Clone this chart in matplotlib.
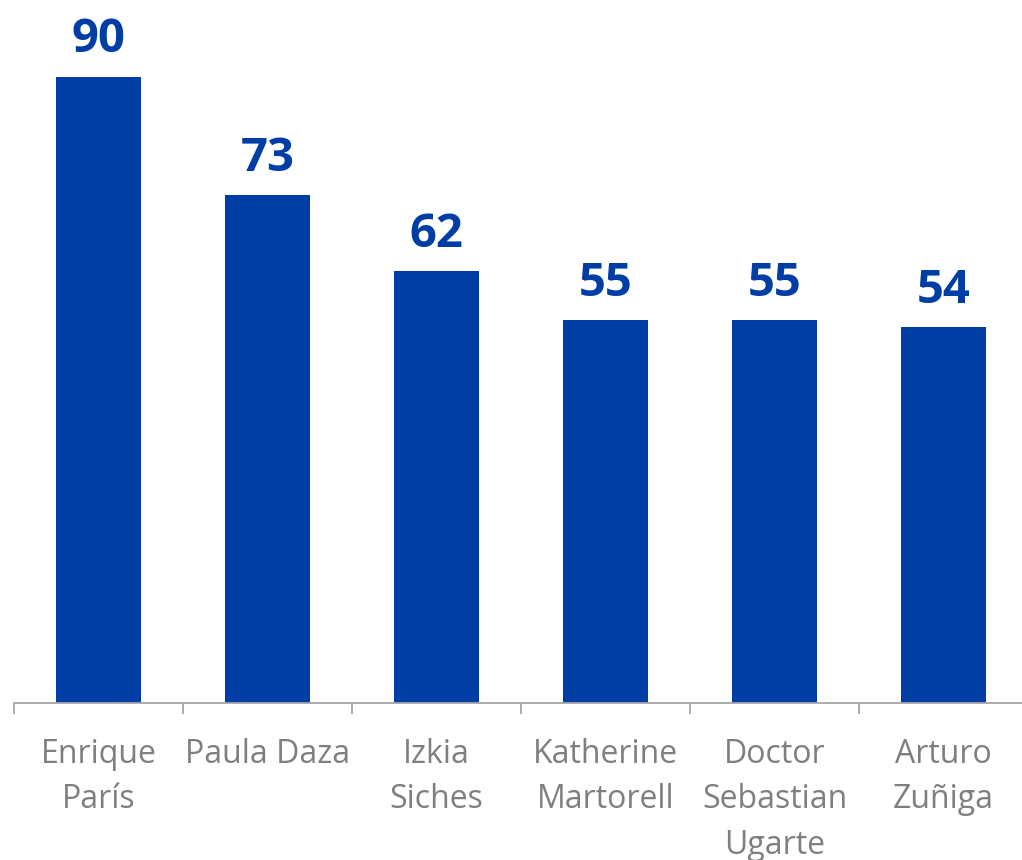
import matplotlib.pyplot as plt
import numpy as np

names = ['Enrique\nParís', 'Paula Daza', 'Izkia\nSiches', 'Katherine\nMartorell',
         'Doctor\nSebastian\nUgarte', 'Arturo\nZuñiga']
values = [90, 73, 62, 55, 55, 54]

bar_color = '#003DA5'
label_color = '#7F7F7F'
axis_color = '#A6A6A6'


def main():
    plt.rcParams['font.family'] = ['Open Sans', 'DejaVu Sans']
    fig = plt.figure(figsize=(10.22, 8.6), dpi=100)
    ax = fig.add_axes([14 / 1022, 1 - 703 / 860, 1014 / 1022, 703 / 860])

    x = np.arange(len(values))
    ax.bar(x, values, width=0.5, color=bar_color, zorder=2)
    for xi, v in zip(x, values):
        ax.annotate(str(v), (xi, v), xytext=(0, 17.5), textcoords='offset points',
                    ha='center', va='baseline', fontsize=34, fontweight='bold',
                    color=bar_color)

    ax.set_xlim(-0.5, len(values) - 0.5)
    ax.set_ylim(0, 101)
    ax.set_xticks(x)
    ax.set_xticklabels(names, fontsize=23, color=label_color, linespacing=1.5)
    ax.tick_params(axis='x', which='major', length=0, pad=25)
    ax.set_xticks(np.arange(-0.5, len(values), 1.0), minor=True)
    ax.tick_params(axis='x', which='minor', length=8, width=1.3, color=axis_color)
    ax.set_yticks([])
    for s in ['top', 'right', 'left']:
        ax.spines[s].set_visible(False)
    ax.spines['bottom'].set_color(axis_color)
    ax.spines['bottom'].set_linewidth(1.3)

    fig.savefig('out.png', dpi=100)


if __name__ == '__main__':
    main()
